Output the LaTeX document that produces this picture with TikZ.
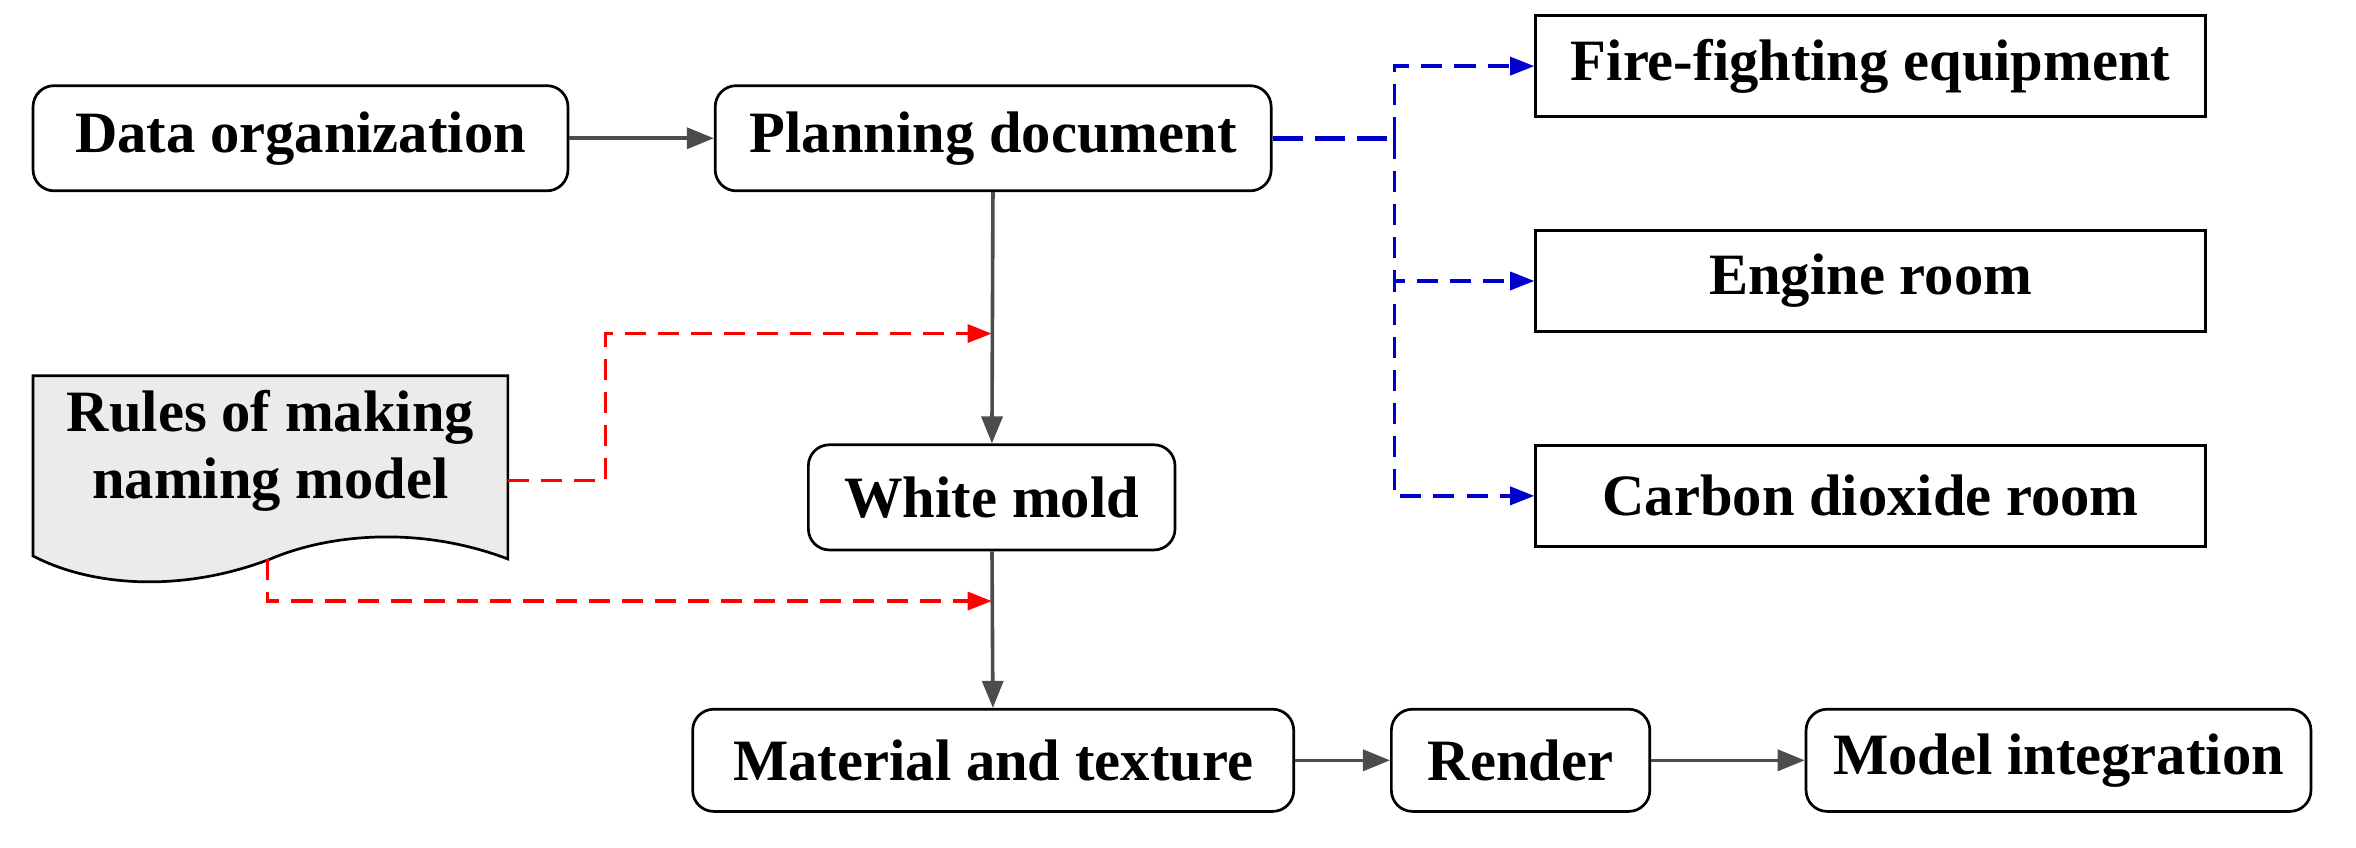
\documentclass[tikz,border=0pt]{standalone}
\usepackage{fontspec}
\setmainfont{Liberation Serif}
\usetikzlibrary{arrows.meta}
\begin{document}
\begin{tikzpicture}[x=0.5pt,y=-0.5pt,
  rb/.style={draw,line width=0.9pt,rounded corners=7pt,font=\fontsize{19.5}{21}\selectfont\bfseries,inner sep=0pt},
  sb/.style={draw,line width=0.9pt,font=\fontsize{19.5}{21}\selectfont\bfseries,inner sep=0pt,minimum width=223pt,minimum height=33.5pt},
  ga/.style={draw=black!70,line width=1.2pt,-{Triangle[length=9pt,width=7pt]}},
  ba/.style={draw=blue!80!black,line width=1.1pt,dash pattern=on 7pt off 4pt,-{Triangle[length=8pt,width=6pt]}},
  ra/.style={draw=red,line width=1.1pt,dash pattern=on 7pt off 4pt,-{Triangle[length=8pt,width=6pt]}}]
\useasboundingbox (0,0) rectangle (1568,564);
\node[rb,minimum width=178pt,minimum height=35pt] (data) at (200,92) {Data organization};
\node[rb,minimum width=185pt,minimum height=35pt] (plan) at (661,92) {Planning document};
\node[sb] (fire) at (1245,44) {Fire-fighting equipment};
\node[sb] (eng) at (1245,187) {Engine room};
\node[sb] (co2) at (1245,330) {Carbon dioxide room};
\node[rb,minimum width=122pt,minimum height=35pt] (white) at (660,331) {White mold};
\node[rb,minimum width=200pt,minimum height=34pt] (mat) at (661,506) {Material and texture};
\node[rb,minimum width=86pt,minimum height=34pt] (ren) at (1012,506) {Render};
\node[rb,minimum width=168pt,minimum height=34pt] (mod) at (1370,506) {Model integration};
% document shape
\draw[line width=0.9pt,fill=black!8] (22,250) -- (338,250) -- (338,372)
  .. controls (280,350) and (220,355) .. (180,372)
  .. controls (120,395) and (60,390) .. (22,370) -- cycle;
\node[font=\fontsize{19.5}{22}\selectfont\bfseries,align=center] (rules) at (180,300) {Rules of making\\naming model};
\coordinate (rr) at (338,320);
\coordinate (rb) at (178,372);
\coordinate (t1) at (660,222);
\coordinate (t2) at (660,400);
\coordinate (j) at (928,92);
% gray arrows
\draw[ga] (data) -- (plan);
\draw[ga] (plan) -- (white);
\draw[ga] (white) -- (mat);
\draw[ga] (mat) -- (ren);
\draw[ga] (ren) -- (mod);
% blue
\draw[blue!80!black,line width=1.6pt,dash pattern=on 10pt off 4pt] (plan.east) -- (j);
\draw[ba] (j) |- (fire.west);
\draw[ba] (j) |- (eng.west);
\draw[ba] (j) |- (co2.west);
% red
\draw[ra] (rr) -- (403,320) |- (t1);
\draw[ra] (rb) |- (t2);
\end{tikzpicture}
\end{document}
